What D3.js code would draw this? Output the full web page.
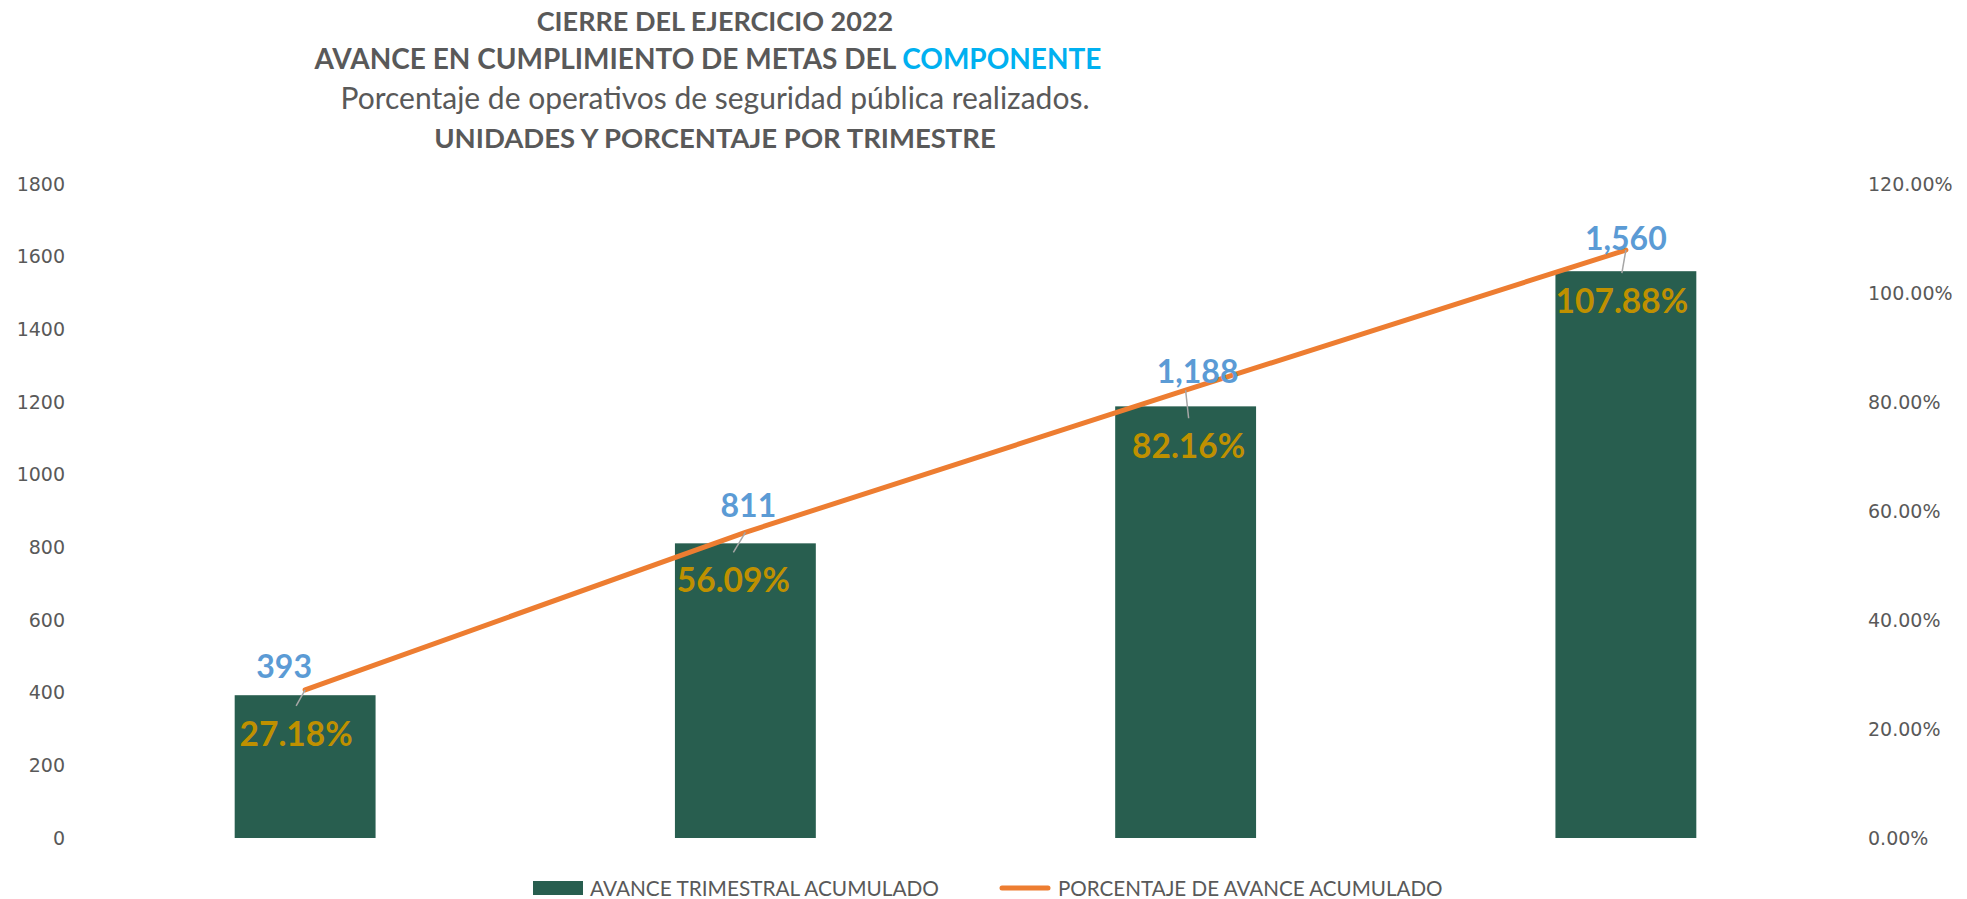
<!DOCTYPE html>
<html>
<head>
<meta charset="utf-8">
<script src="https://cdn.jsdelivr.net/npm/d3@7/dist/d3.min.js"></script>
<style>
  body { margin: 0; background: #fff; }
  text { font-family: Lato, "Open Sans", sans-serif; }
  .tick text { font-family: "DejaVu Sans", sans-serif; font-size: 19px; fill: #595959; }
</style>
</head>
<body>
<div id="grafica"></div>
<script>
// datos
const trimestres = ["T1", "T2", "T3", "T4"];
const avanceAcumulado = [393, 811, 1188, 1560];
const porcentajeAvance = [27.18, 56.09, 82.16, 107.88];
const ticksUnidades = [0, 200, 400, 600, 800, 1000, 1200, 1400, 1600, 1800];
const ticksPorcentaje = [0, 20, 40, 60, 80, 100, 120];
const series = ["AVANCE TRIMESTRAL ACUMULADO", "PORCENTAJE DE AVANCE ACUMULADO"];

// ajustes manuales de etiquetas (como en Excel)
const nudgeValor = [[-21, -17], [3, -26], [12, -23], [0, -21]];
const nudgePorc = [[-9, 56], [-12, 60], [3, 68], [-4, 63]];

const ancho = 1967, alto = 899;
const margen = { izq: 85, der: 1846, arriba: 184, abajo: 838 };

const verde = "#285E4F", naranja = "#ED7D31", azul = "#5B9BD5", oro = "#BF9000", gris = "#595959";

const svg = d3.select("#grafica").append("svg")
  .attr("width", ancho)
  .attr("height", alto);

const x = d3.scaleBand()
  .domain(trimestres)
  .range([margen.izq, margen.der])
  .paddingInner(0.68)
  .paddingOuter(0.34);

const y = d3.scaleLinear().domain([0, 1800]).range([margen.abajo, margen.arriba]);
const y2 = d3.scaleLinear().domain([0, 120]).range([margen.abajo, margen.arriba]);

// titulo
const titulo = svg.append("text")
  .attr("text-anchor", "middle")
  .attr("fill", gris);
titulo.append("tspan").attr("x", 715).attr("y", 31)
  .attr("font-weight", "bold").attr("font-size", 27)
  .text("CIERRE DEL EJERCICIO 2022");
const t2 = titulo.append("tspan").attr("x", 708).attr("y", 69)
  .attr("font-weight", "bold").attr("font-size", 28);
t2.append("tspan").text("AVANCE EN CUMPLIMIENTO DE METAS DEL ");
t2.append("tspan").attr("fill", "#00B0F0").text("COMPONENTE");
titulo.append("tspan").attr("x", 715).attr("y", 109)
  .attr("font-size", 30)
  .text("Porcentaje de operativos de seguridad pública realizados.");
titulo.append("tspan").attr("x", 715).attr("y", 148)
  .attr("font-weight", "bold").attr("font-size", 27.5)
  .text("UNIDADES Y PORCENTAJE POR TRIMESTRE");

// ejes
svg.append("g")
  .attr("transform", `translate(${margen.izq},0)`)
  .call(d3.axisLeft(y).tickValues(ticksUnidades).tickSize(0).tickPadding(20)
    .tickFormat(d3.format("d")))
  .call(g => g.select(".domain").remove());

svg.append("g")
  .attr("transform", `translate(${margen.der},0)`)
  .call(d3.axisRight(y2).tickValues(ticksPorcentaje).tickSize(0).tickPadding(22)
    .tickFormat(d => d3.format(".2f")(d) + "%"))
  .call(g => g.select(".domain").remove());

// barras
svg.selectAll(".barra")
  .data(avanceAcumulado)
  .enter()
  .append("rect")
  .attr("class", "barra")
  .attr("x", (d, i) => x(trimestres[i]))
  .attr("y", d => y(d))
  .attr("width", x.bandwidth())
  .attr("height", d => y(0) - y(d))
  .attr("fill", verde);

const cx = i => x(trimestres[i]) + x.bandwidth() / 2;

// linea de porcentaje
const linea = d3.line()
  .x((d, i) => cx(i))
  .y(d => y2(d));

svg.append("path")
  .datum(porcentajeAvance)
  .attr("d", linea)
  .attr("fill", "none")
  .attr("stroke", naranja)
  .attr("stroke-width", 5)
  .attr("stroke-linecap", "round");

// lineas guia
svg.selectAll(".guia")
  .data(porcentajeAvance)
  .enter()
  .append("line")
  .attr("class", "guia")
  .attr("x1", (d, i) => cx(i))
  .attr("y1", d => y2(d))
  .attr("x2", (d, i) => cx(i) + nudgePorc[i][0])
  .attr("y2", (d, i) => y2(d) + nudgePorc[i][1] - 40)
  .attr("stroke", "#A6A6A6")
  .attr("stroke-width", 1.5);

// etiquetas de valor
svg.selectAll(".etq-valor")
  .data(avanceAcumulado)
  .enter()
  .append("text")
  .attr("class", "etq-valor")
  .attr("text-anchor", "middle")
  .attr("x", (d, i) => cx(i) + nudgeValor[i][0])
  .attr("y", (d, i) => y(d) + nudgeValor[i][1])
  .attr("font-size", 32)
  .attr("font-weight", "bold")
  .attr("fill", azul)
  .text(d => d3.format(",")(d));

// etiquetas de porcentaje
svg.selectAll(".etq-porc")
  .data(porcentajeAvance)
  .enter()
  .append("text")
  .attr("class", "etq-porc")
  .attr("text-anchor", "middle")
  .attr("x", (d, i) => cx(i) + nudgePorc[i][0])
  .attr("y", (d, i) => y2(d) + nudgePorc[i][1])
  .attr("font-size", 33.5)
  .attr("font-weight", "bold")
  .attr("fill", oro)
  .text(d => d3.format(".2f")(d) + "%");

// leyenda
const ley = svg.append("g").attr("transform", "translate(0,888)");
ley.append("rect")
  .attr("x", 533).attr("y", -7).attr("width", 50).attr("height", 14)
  .attr("fill", verde);
ley.append("text")
  .attr("x", 590).attr("y", 7.5)
  .attr("font-size", 20.8).attr("fill", gris)
  .text(series[0]);
ley.append("line")
  .attr("x1", 1002).attr("x2", 1048).attr("y1", 0).attr("y2", 0)
  .attr("stroke", naranja).attr("stroke-width", 5).attr("stroke-linecap", "round");
ley.append("text")
  .attr("x", 1058).attr("y", 7.5)
  .attr("font-size", 20.6).attr("fill", gris)
  .text(series[1]);
</script>
</body>
</html>
